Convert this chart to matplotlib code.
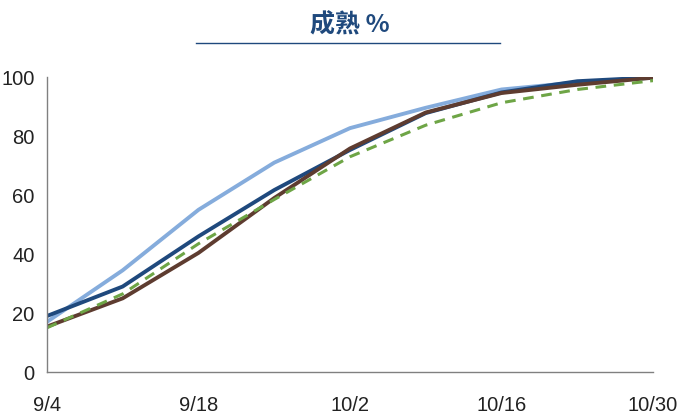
import matplotlib.pyplot as plt
from matplotlib.lines import Line2D

plt.rcParams['font.family'] = ['Liberation Sans', 'Noto Sans CJK SC', 'DejaVu Sans']

dates = ["9/4", "9/11", "9/18", "9/25", "10/2", "10/9", "10/16", "10/23", "10/30"]
tick_labels = ["9/4", "9/18", "10/2", "10/16", "10/30"]
light_blue = [17, 34.5, 55, 71, 82.7, 89.6, 95.8, 98.2, 99.8]
dark_blue = [19, 29, 46, 61.7, 75.3, 87.8, 94.8, 98.6, 99.9]
brown = [15.4, 25, 40.4, 59, 75.8, 88, 94.6, 97.4, 99.8]
green = [15, 26.5, 43.5, 58.5, 73, 83.7, 91.3, 95.8, 98.8]

fig = plt.figure(figsize=(7, 4.19), dpi=100)
ax = fig.add_axes([0.067, 0.112, 0.866, 0.704])

x = list(range(len(dates)))
ax.plot(x, light_blue, color='#85acdc', lw=2.8, solid_capstyle='butt')
ax.plot(x, dark_blue, color='#1f497d', lw=2.8, solid_capstyle='butt')
ax.plot(x, brown, color='#5e3c30', lw=2.8, solid_capstyle='butt')
ax.plot(x, green, color='#6ea546', lw=2.2, ls=(0, (3.5, 2.5)))

ax.set_xlim(0, 8)
ax.set_ylim(0, 100)
ax.set_xticks([0, 2, 4, 6, 8])
ax.set_xticklabels(tick_labels)
ax.set_yticks([0, 20, 40, 60, 80, 100])
ax.tick_params(length=0, labelsize=14.5, colors='#222222')
ax.tick_params(axis='x', pad=17)
ax.tick_params(axis='y', pad=9)
for s in ['top', 'right']:
    ax.spines[s].set_visible(False)
for s in ['left', 'bottom']:
    ax.spines[s].set_color('#808080')
    ax.spines[s].set_linewidth(1.0)

fig.text(0.5, 0.94, "成熟 %", ha='center', va='center', fontsize=18, fontweight='bold',
         color='#1f497d', family=['Noto Sans CJK SC', 'DejaVu Sans'])
fig.add_artist(Line2D([0.28, 0.714], [0.897, 0.897], color='#1f497d', lw=1.0))

fig.savefig("out.png", dpi=100)
